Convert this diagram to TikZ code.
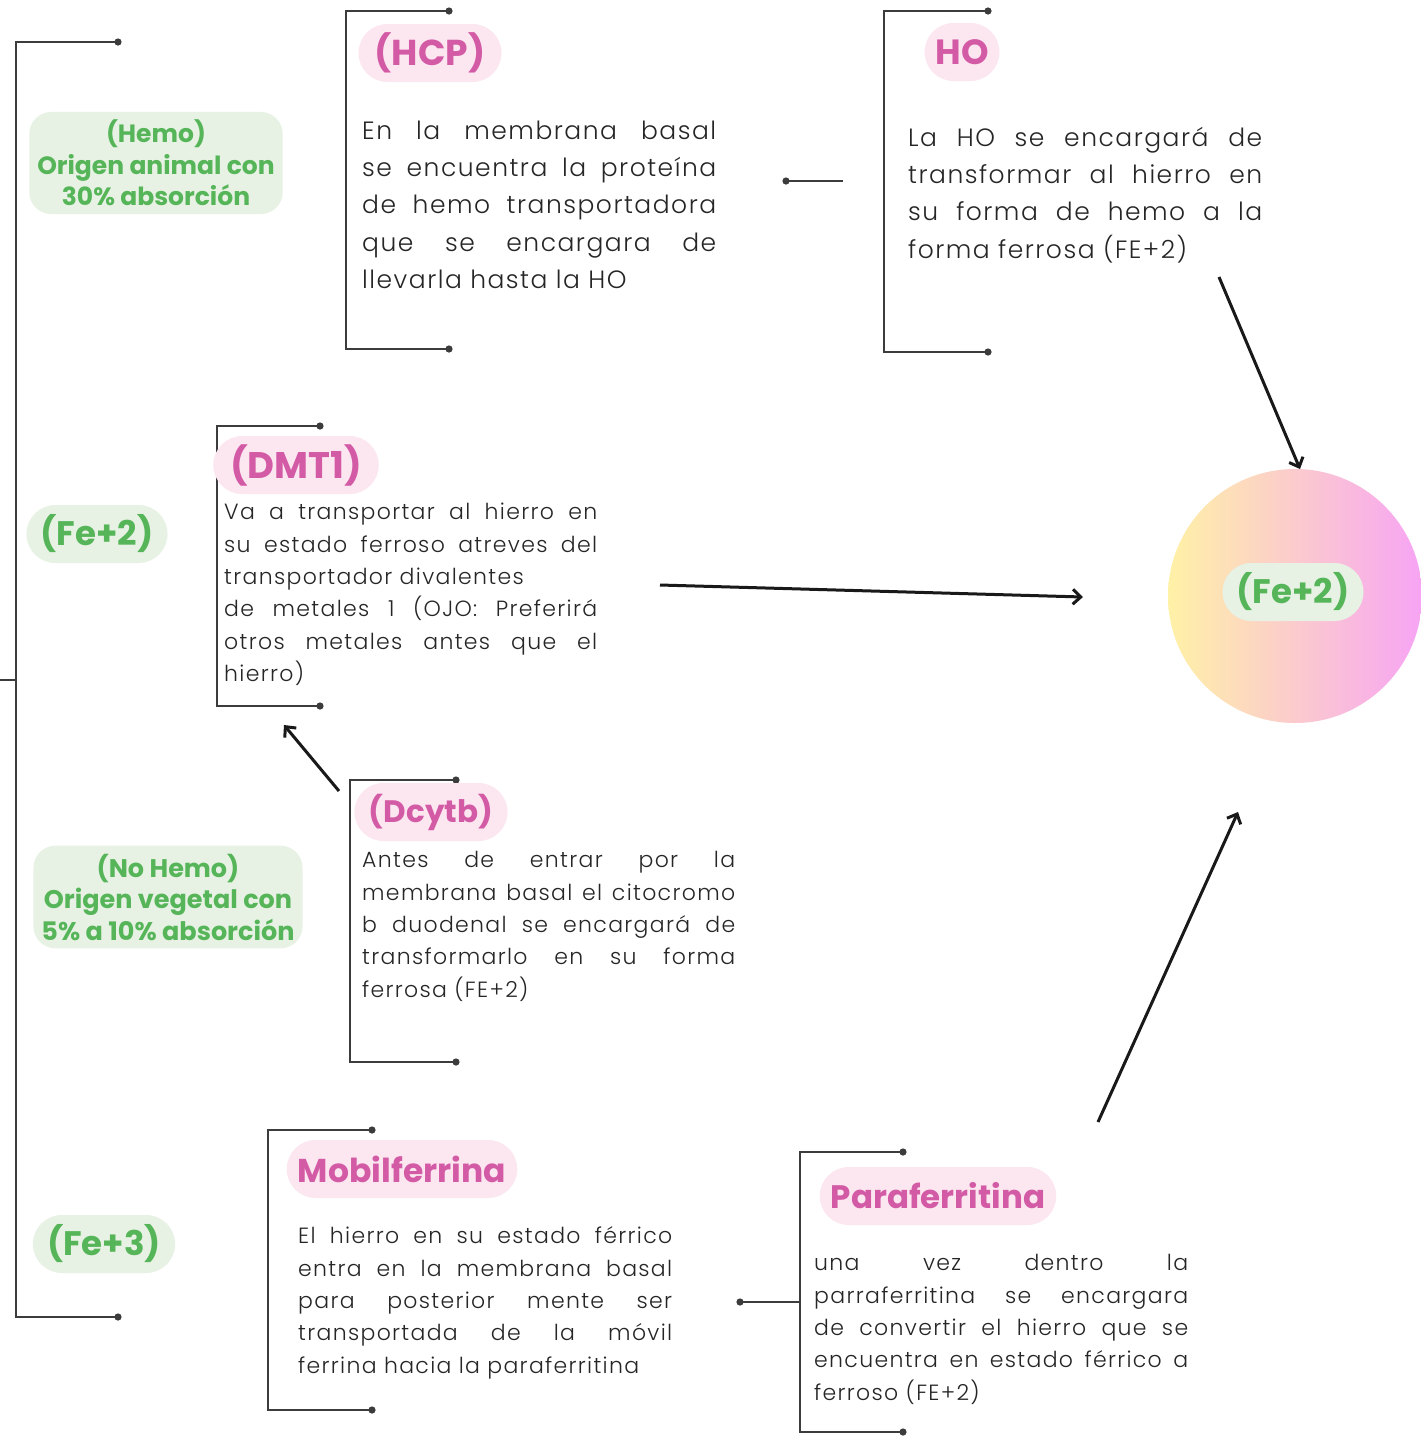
\documentclass[tikz,border=0pt]{standalone}
\usepackage{fontspec}
\setmainfont{Poppins}
\IfFontExistsTF{Poppins Light}{\newfontfamily\bodyf{Poppins Light}[LetterSpace=6]}{\newfontfamily\bodyf{Poppins}[LetterSpace=6]}
\usetikzlibrary{arrows.meta,shapes.misc}
\definecolor{pinkt}{HTML}{D35AA5}
\definecolor{pinkbg}{HTML}{FCE6F0}
\definecolor{greent}{HTML}{55B558}
\definecolor{greenbg}{HTML}{E7F2E4}
\definecolor{linec}{HTML}{3C3C3C}
\definecolor{bodyc}{HTML}{262626}
\definecolor{cyel}{HTML}{FFF1A6}
\definecolor{cmid}{HTML}{FDD0D2}
\definecolor{cmag}{HTML}{F7A4F4}
\newcommand\mybrk[5]{%
  \coordinate (#1tl) at (#2,#3);
  \coordinate (#1tr) at (#5,#3);
  \coordinate (#1bl) at (#2,#4);
  \coordinate (#1br) at (#5,#4);
  \draw[brk] (#1tr) -- (#1tl) -- (#1bl) -- (#1br);
  \fill[linec] (#1tr) circle (3.6pt) (#1br) circle (3.6pt);}
\begin{document}
\begin{tikzpicture}[x=1pt,y=-1pt,
  brk/.style={draw=linec,line width=2.2pt},
  body/.style={anchor=north west,inner sep=0pt,text width=#1,align=justify,text=bodyc,font={\bodyf\fontsize{25}{37.3}\selectfont\hyphenpenalty=10000\relax}},
  bodys/.style={anchor=north west,inner sep=0pt,text width=#1,align=justify,text=bodyc,font={\bodyf\fontsize{22}{32.3}\selectfont\hyphenpenalty=10000\relax}},
  pinkpill/.style={rounded rectangle,fill=pinkbg,text=pinkt,font=\bfseries\fontsize{#1}{#1}\selectfont,inner xsep=8pt,minimum height=58pt},
  greenpill/.style={rounded rectangle,fill=greenbg,text=greent,font=\bfseries\fontsize{34}{34}\selectfont,inner xsep=7pt,minimum height=58pt},
  greenlbl/.style={fill=greenbg,rounded corners=22pt,text=greent,align=center,font=\bfseries\fontsize{#1}{31.5}\selectfont,inner xsep=8pt,inner ysep=8pt},
  arr/.style={draw=black!90,line width=3pt,-{Straight Barb[length=8pt,width=15pt]}},
]
\useasboundingbox (0,0) rectangle (1421,1436);
\fill[white] (0,0) rectangle (1421,1436);

% left main bracket
\mybrk{L}{16}{42}{1317}{118}
\coordinate (Lstub) at (0,680);
\coordinate (Lmid) at (16,680);
\draw[brk] (Lstub) -- (Lmid);

% green labels
\node[greenlbl=25] (hemo) at (156,163) {(Hemo)\\Origen animal con\\30\% absorción};
\node[greenlbl=25.5] (nohemo) at (168,897) {(No Hemo)\\Origen vegetal con\\5\% a 10\% absorción};
\node[greenpill] (fe2l) at (97,534) {(Fe+2)};
\node[greenpill] (fe3l) at (104,1244) {(Fe+3)};

% HCP
\mybrk{H}{346}{11}{349}{449}
\node[pinkpill=36] (hcp) at (430,53) {(HCP)};
\node[body=354pt] (hcpt) at (362,113) {\strut En la membrana basal\linebreak se encuentra la proteína\linebreak de hemo transportadora\linebreak que se encargara de\linebreak llevarla hasta la HO};

% HO
\mybrk{O}{884}{11}{352}{988}
\node[pinkpill=35] (ho) at (962,52) {HO};
\node[body=354pt] (hot) at (908,120) {\strut La HO se encargará de\linebreak transformar al hierro en\linebreak su forma de hemo a la\linebreak forma ferrosa (FE+2)};
\coordinate (hoL) at (843,181);
\coordinate (hcpR) at (786,181);
\draw[brk] (hoL) -- (hcpR);
\fill[linec] (hcpR) circle (3.6pt);

% DMT1
\mybrk{D}{217}{426}{706}{320}
\node[pinkpill=37] (dmt) at (296,465) {(DMT1)};
\node[bodys=373pt] (dmtt) at (224,497) {\strut Va a transportar al hierro en\linebreak su estado ferroso atreves del\linebreak transportador divalentes\\ de metales 1 (OJO: Preferirá\linebreak otros metales antes que el\linebreak hierro)};

% circle
\node[circle,minimum size=254pt,inner sep=0pt,left color=cyel,middle color=cmid,right color=cmag] (circ) at (1295,596) {};
\node[greenpill] (fe2c) at (1293,592) {(Fe+2)};

% Dcytb
\mybrk{C}{350}{780}{1062}{456}
\node[pinkpill=31] (dcy) at (431,812) {(Dcytb)};
\node[bodys=373pt] (dcyt) at (362,845) {\strut Antes de entrar por la\linebreak membrana basal el citocromo\linebreak b duodenal se encargará de\linebreak transformarlo en su forma\linebreak ferrosa (FE+2)};

% Mobilferrina
\mybrk{M}{268}{1130}{1410}{372}
\node[pinkpill=33] (mob) at (402,1169) {Mobilferrina};
\node[bodys=374pt] (mobt) at (298,1221) {\strut El hierro en su estado férrico\linebreak entra en la membrana basal\linebreak para posterior mente ser\linebreak transportada de la móvil\linebreak ferrina hacia la paraferritina};

% Paraferritina
\mybrk{P}{800}{1152}{1432}{903}
\node[pinkpill=32.5] (par) at (938,1196) {Paraferritina};
\node[bodys=374pt] (part) at (814,1248) {\strut una vez dentro la\linebreak parraferritina se encargara\linebreak de convertir el hierro que se\linebreak encuentra en estado férrico a\linebreak ferroso (FE+2)};
\coordinate (parL) at (800,1302);
\coordinate (mobR) at (740,1302);
\draw[brk] (parL) -- (mobR);
\fill[linec] (mobR) circle (3.6pt);

% arrows
\coordinate (a1s) at (1219,277);
\coordinate (a1e) at (1300,469);
\draw[arr] (a1s) -- (a1e);
\coordinate (a2s) at (660,585);
\coordinate (a2e) at (1083,597);
\draw[arr] (a2s) -- (a2e);
\coordinate (a3s) at (339,791);
\coordinate (a3e) at (284,725);
\draw[arr] (a3s) -- (a3e);
\coordinate (a4s) at (1098,1122);
\coordinate (a4e) at (1238,812);
\draw[arr] (a4s) -- (a4e);
\end{tikzpicture}
\end{document}
